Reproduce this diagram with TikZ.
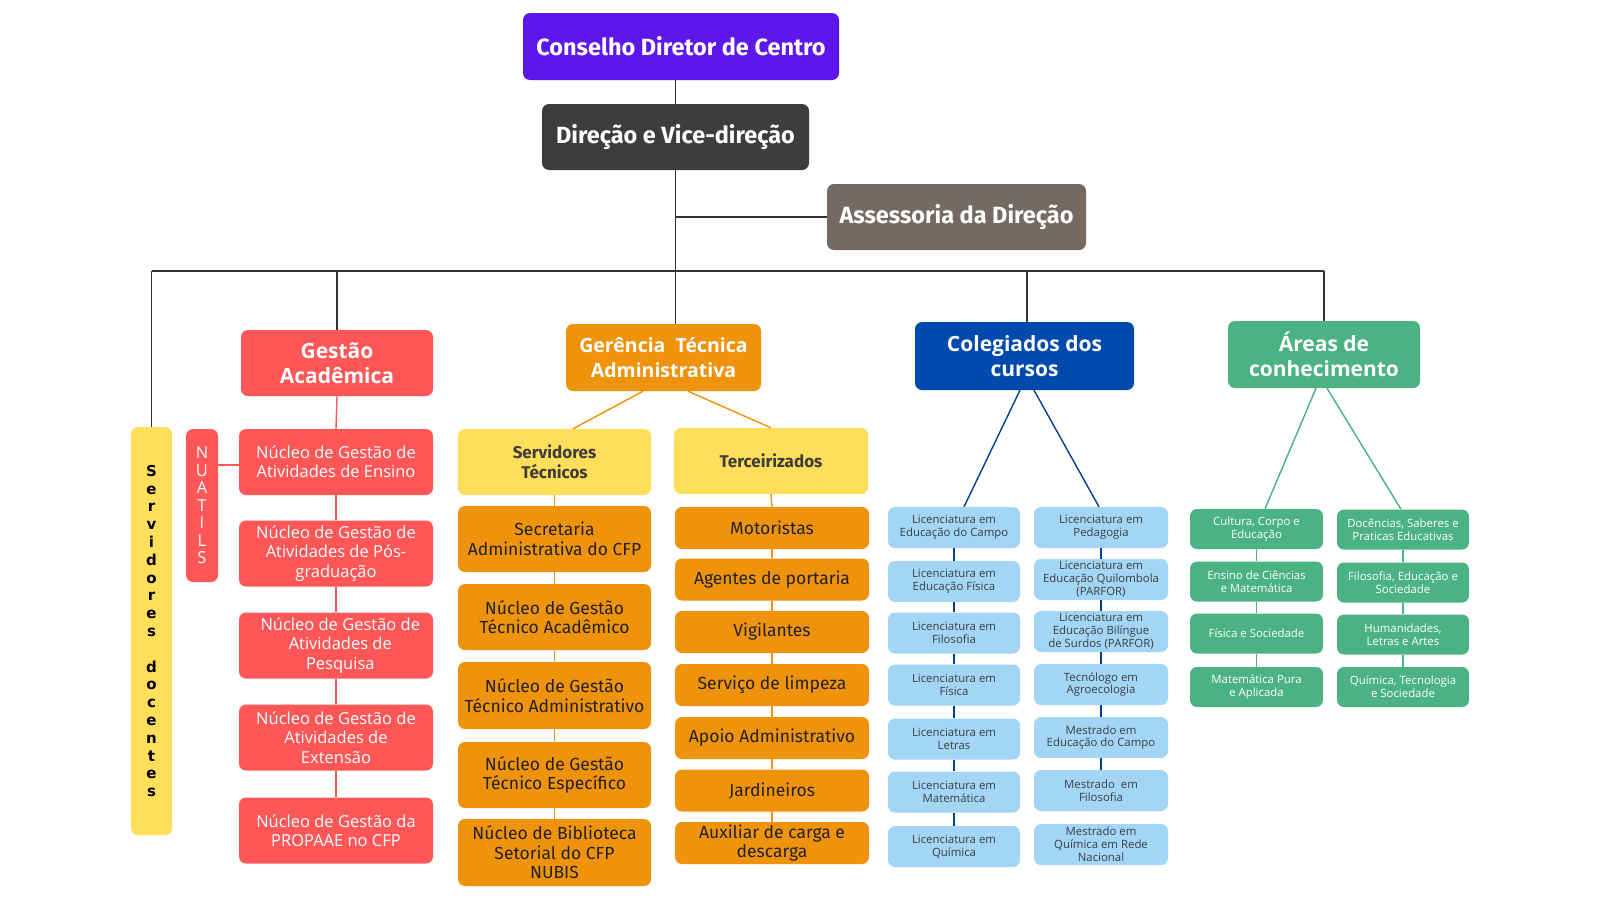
\documentclass[tikz,border=0pt]{standalone}
\usepackage{fontspec}
\setmainfont{Open Sans}
\newfontfamily\fira{Fira Sans}
\newfontfamily\djv{DejaVu Sans}
\usetikzlibrary{calc}
\definecolor{cpurple}{HTML}{5E17EB}
\definecolor{cdark}{HTML}{3D3D3D}
\definecolor{cbrown}{HTML}{756A62}
\definecolor{cred}{HTML}{FF5757}
\definecolor{cyel}{HTML}{FFDE59}
\definecolor{corange}{HTML}{F0930C}
\definecolor{cblue}{HTML}{004AAD}
\definecolor{clblue}{HTML}{A3D6F5}
\definecolor{cgreen}{HTML}{4BB283}
\definecolor{cline}{HTML}{333333}
\definecolor{ctext}{HTML}{222222}
\definecolor{cbtext}{HTML}{3A3F45}
\begin{document}
\begin{tikzpicture}[x=1pt,y=-1pt,
  base/.style={rounded corners=7pt, inner sep=0pt, align=center},
  topbox/.style={base, text=white, font=\fira\bfseries\fontsize{23.5}{27}\selectfont},
  headbox/.style={base, text=white, font=\bfseries\fontsize{21}{25}\selectfont},
  redbox/.style={base, fill=cred, text=white, minimum width=194, minimum height=66, font=\fontsize{16.5}{19.5}\selectfont},
  orbox/.style={base, fill=corange, text=ctext, minimum width=193, font=\fira\fontsize{17.5}{19.5}\selectfont},
  ylbox/.style={base, fill=cyel, text=cdark, minimum width=193, minimum height=66, font=\fira\bfseries\fontsize{17}{20}\selectfont},
  lbbox/.style={base, fill=clblue, text=cbtext, minimum height=41, font=\fontsize{11.4}{12.8}\selectfont},
  gbox/.style={base, fill=cgreen, text=white, minimum height=40, font=\fontsize{11.4}{12.8}\selectfont},
  blk/.style={draw=cline, line width=1.6pt},
  redl/.style={draw=cred, line width=1.4pt},
  orl/.style={draw=corange, line width=1.4pt},
  bll/.style={draw=cblue!85!black, line width=1.4pt},
  grl/.style={draw=cgreen, line width=1.4pt}]
\useasboundingbox[fill=white] (0,0) rectangle (1600,900);

% top
\node[topbox, fill=cpurple, minimum width=316, minimum height=67] (cdc) at (681,46.5) {Conselho Diretor de Centro};
\node[topbox, fill=cdark, minimum width=267, minimum height=66] (dir) at (675.5,137) {Direção e Vice-direção};
\node[topbox, fill=cbrown, minimum width=259, minimum height=66] (ass) at (956.5,217) {Assessoria da Direção};

% level 2
\node[base, fill=cyel, minimum width=41, minimum height=408, font=\djv\bfseries\fontsize{15}{17.8}\selectfont] (sd) at (151.5,631)
 {S\\e\\r\\v\\i\\d\\o\\r\\e\\s\\[17.8pt]d\\o\\c\\e\\n\\t\\e\\s};
\node[base, fill=cred, text=white, minimum width=32, minimum height=153, font=\fontsize{16.5}{17.5}\selectfont] (nu) at (202,505.5)
 {N\\U\\A\\T\\I\\L\\S};
\node[headbox, fill=cred, minimum width=192, minimum height=66] (ga) at (337,363) {Gestão\\Acadêmica};
\node[headbox, fill=corange, minimum width=195, minimum height=67, font=\bfseries\fontsize{19.5}{25}\selectfont] (gta) at (663.5,357.5) {Gerência\ \ Técnica\\Administrativa};
\node[headbox, fill=cblue, minimum width=219, minimum height=68] (col) at (1024.5,356) {Colegiados dos\\cursos};
\node[headbox, fill=cgreen, minimum width=192, minimum height=67] (ar) at (1324,354.5) {Áreas de\\conhecimento};

% Gestão Acadêmica chain
\node[redbox] (r1) at (336,462) {Núcleo de Gestão de\\Atividades de Ensino};
\node[redbox] (r2) at (336,553.5) {Núcleo de Gestão de\\Atividades de Pós-\\graduação};
\node[redbox] (r3) at (336,645.5) {\ \ Núcleo de Gestão de\\\ \ Atividades de\\\ \ Pesquisa};
\node[redbox] (r4) at (336,737.5) {Núcleo de Gestão de\\Atividades de\\Extensão};
\node[redbox] (r5) at (336,830.5) {Núcleo de Gestão da\\PROPAAE no CFP};

% Gerência chains
\node[ylbox] (st) at (554.5,462) {Servidores\\Técnicos};
\node[ylbox, minimum width=194] (te) at (771,461) {Terceirizados};
\node[orbox, minimum height=66] (o1) at (554.5,539) {Secretaria\\Administrativa do CFP};
\node[orbox, minimum height=66] (o2) at (554.5,617) {Núcleo de Gestão\\Técnico Acadêmico};
\node[orbox, minimum height=67] (o3) at (554.5,695.5) {Núcleo de Gestão\\Técnico Administrativo};
\node[orbox, minimum height=66] (o4) at (554.5,775) {Núcleo de Gestão\\Técnico Específico};
\node[orbox, minimum height=67] (o5) at (554.5,852.5) {Núcleo de Biblioteca\\Setorial do CFP\\NUBIS};
\node[orbox, minimum width=194, minimum height=42] (p1) at (772,528) {Motoristas};
\node[orbox, minimum width=194, minimum height=42] (p2) at (772,579.5) {Agentes de portaria};
\node[orbox, minimum width=194, minimum height=42] (p3) at (772,632) {Vigilantes};
\node[orbox, minimum width=194, minimum height=42] (p4) at (772,685) {Serviço de limpeza};
\node[orbox, minimum width=194, minimum height=42] (p5) at (772,738) {Apoio Administrativo};
\node[orbox, minimum width=194, minimum height=42] (p6) at (772,790.5) {Jardineiros};
\node[orbox, minimum width=194, minimum height=42] (p7) at (772,843) {Auxiliar de carga e\\descarga};

% Colegiados
\node[lbbox, minimum width=132] (b1) at (954,527.5) {Licenciatura em\\Educação do Campo};
\node[lbbox, minimum width=132] (b2) at (954,581.5) {Licenciatura em\\Educação Física};
\node[lbbox, minimum width=132] (b3) at (954,633) {Licenciatura em\\Filosofia};
\node[lbbox, minimum width=132] (b4) at (954,685) {Licenciatura em\\Física};
\node[lbbox, minimum width=132] (b5) at (954,739) {Licenciatura em\\Letras};
\node[lbbox, minimum width=132] (b6) at (954,792) {Licenciatura em\\Matemática};
\node[lbbox, minimum width=132] (b7) at (954,846.5) {Licenciatura em\\Química};
\node[lbbox, minimum width=134] (c1) at (1101,527.5) {Licenciatura em\\Pedagogia};
\node[lbbox, minimum width=134] (c2) at (1101,579.5) {Licenciatura em\\Educação Quilombola\\(PARFOR)};
\node[lbbox, minimum width=134] (c3) at (1101,631.5) {Licenciatura em\\Educação Bilíngue\\de Surdos (PARFOR)};
\node[lbbox, minimum width=134] (c4) at (1101,684.5) {Tecnólogo em\\Agroecologia};
\node[lbbox, minimum width=134] (c5) at (1101,737.5) {Mestrado em\\Educação do Campo};
\node[lbbox, minimum width=134] (c6) at (1101,790.5) {Mestrado\ \ em\\Filosofia};
\node[lbbox, minimum width=134] (c7) at (1101,844.5) {Mestrado em\\Química em Rede\\Nacional};

% Áreas
\node[gbox, minimum width=133] (g1) at (1256.5,529) {Cultura, Corpo e\\Educação};
\node[gbox, minimum width=133] (g2) at (1256.5,581.5) {Ensino de Ciências\\e Matemática};
\node[gbox, minimum width=133] (g3) at (1256.5,633.5) {Física e Sociedade};
\node[gbox, minimum width=133] (g4) at (1256.5,687) {Matemática Pura\\e Aplicada};
\node[gbox, minimum width=132] (h1) at (1403,529.5) {Docências, Saberes e\\Praticas Educativas};
\node[gbox, minimum width=132] (h2) at (1403,582.5) {Filosofia, Educação e\\Sociedade};
\node[gbox, minimum width=132] (h3) at (1403,634.5) {Humanidades,\\Letras e Artes};
\node[gbox, minimum width=132] (h4) at (1403,687) {Química, Tecnologia\\e Sociedade};

% connectors: top
\coordinate (busL) at (151.5,271);
\coordinate (busR) at (1324,271);
\draw[blk] (dir.north) -- (dir.north |- cdc.south);
\draw[blk] (dir.south) -- (dir.south |- gta.north);
\draw[blk] (ass.west) -- (ass.west -| dir.south);
\draw[blk] (busL) -- (busR);
\draw[blk] (sd.north) -- (sd.north |- busL);
\draw[blk] (ga.north) -- (ga.north |- busL);
\draw[blk] ([xshift=2.5pt]col.north) -- ([xshift=2.5pt]col.north |- busL);
\draw[blk] (ar.north) -- (ar.north |- busR);

% red chain
\draw[redl] (ga.south) -- (r1.north);
\draw[redl] (r1.south) -- (r2.north);
\draw[redl] (r2.south) -- (r3.north);
\draw[redl] (r3.south) -- (r4.north);
\draw[redl] (r4.south) -- (r5.north);
\draw[redl] ([yshift=-3pt]r1.west) -- ([yshift=-3pt]r1.west -| nu.east);

% orange
\draw[orl] ([xshift=-20.5pt]gta.south) -- ([xshift=18.5pt]st.north);
\draw[orl] ([xshift=24.5pt]gta.south) -- (te.north);
\draw[orl] (st.south) -- (o1.north);
\draw[orl] (o1.south) -- (o2.north);
\draw[orl] (o2.south) -- (o3.north);
\draw[orl] (o3.south) -- (o4.north);
\draw[orl] (o4.south) -- (o5.north);
\draw[orl] (te.south) -- (p1.north);
\draw[orl] (p1.south) -- (p2.north);
\draw[orl] (p2.south) -- (p3.north);
\draw[orl] (p3.south) -- (p4.north);
\draw[orl] (p4.south) -- (p5.north);
\draw[orl] (p5.south) -- (p6.north);
\draw[orl] (p6.south) -- (p7.north);

% blue
\draw[bll] ([xshift=-4.5pt]col.south) -- ([xshift=10pt]b1.north);
\draw[bll] ([xshift=9.5pt]col.south) -- ([xshift=-2pt]c1.north);
\draw[bll] (b1.south) -- (b2.north);
\draw[bll] (b2.south) -- (b3.north);
\draw[bll] (b3.south) -- (b4.north);
\draw[bll] (b4.south) -- (b5.north);
\draw[bll] (b5.south) -- (b6.north);
\draw[bll] (b6.south) -- (b7.north);
\draw[bll] (c1.south) -- (c2.north);
\draw[bll] (c2.south) -- (c3.north);
\draw[bll] (c3.south) -- (c4.north);
\draw[bll] (c4.south) -- (c5.north);
\draw[bll] (c5.south) -- (c6.north);

% green
\draw[grl] ([xshift=-8pt]ar.south) -- ([xshift=8.5pt]g1.north);
\draw[grl] ([xshift=3pt]ar.south) -- ([xshift=-2pt]h1.north);
\draw[grl] (g1.south) -- (g2.north);
\draw[grl] (g2.south) -- (g3.north);
\draw[grl] (g3.south) -- (g4.north);
\draw[grl] (h1.south) -- (h2.north);
\draw[grl] (h2.south) -- (h3.north);
\draw[grl] (h3.south) -- (h4.north);
\end{tikzpicture}
\end{document}
